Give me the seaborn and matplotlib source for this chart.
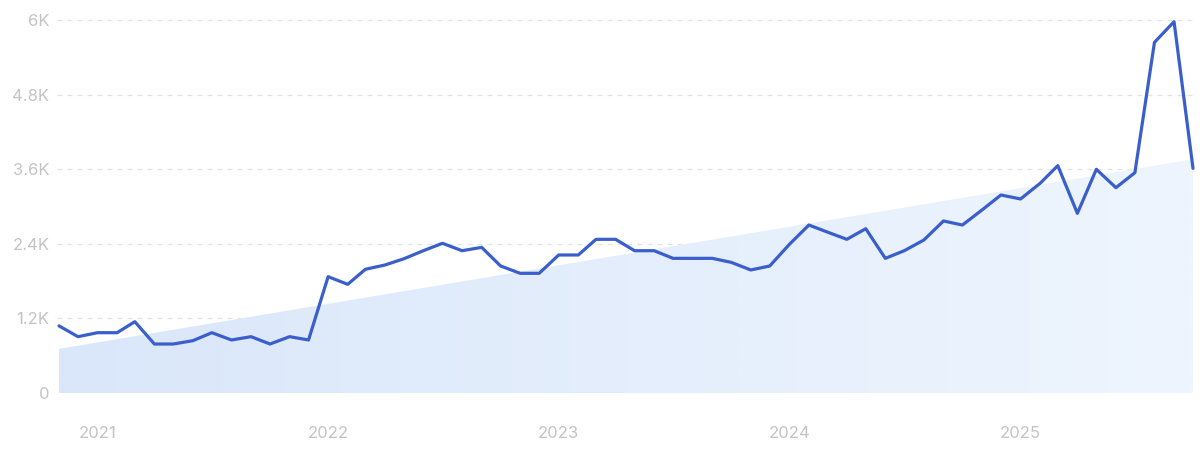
import numpy as np
import pandas as pd
import matplotlib
matplotlib.use("Agg")
import matplotlib.pyplot as plt
import seaborn as sns
from matplotlib.colors import LinearSegmentedColormap

# monthly values, Nov 2020 .. Oct 2025
months = pd.date_range("2020-11-01", periods=60, freq="MS")
values = [
    1080, 906, 970, 970, 1147, 788, 788, 842, 970, 853, 906, 788, 906, 853,
    1871, 1748, 1990, 2059, 2160, 2290, 2408, 2289, 2343, 2043, 1925, 1925,
    2220, 2220, 2472, 2472, 2289, 2289, 2166, 2166, 2166, 2102, 1979, 2043,
    2390, 2702, 2590, 2472, 2643, 2166, 2289, 2461, 2767, 2702, 2944, 3185,
    3121, 3373, 3657, 2890, 3598, 3303, 3544, 5641, 5973, 3614,
]
trend_start = 710
trend_end = 3760

y_ticks = [0, 1200, 2400, 3600, 4800, 6000]
y_labels = ["0", "1.2K", "2.4K", "3.6K", "4.8K", "6K"]
year_ticks = pd.to_datetime(["2021-01-01", "2022-01-01", "2023-01-01", "2024-01-01", "2025-01-01"])
year_labels = ["2021", "2022", "2023", "2024", "2025"]

df = pd.DataFrame({"month": months, "value": values})

sns.set_style("white")
plt.rcParams["font.family"] = ["Inter", "DejaVu Sans"]

fig = plt.figure(figsize=(12, 4.51), dpi=100)
ax = fig.add_axes([59 / 1200, 1 - 393 / 451, (1193 - 59) / 1200, (393 - 20) / 451])

# trend area with a soft horizontal gradient
x0, x1 = months[0], months[-1]
poly = ax.fill_between([x0, x1], [0, 0], [trend_start, trend_end], color="none", lw=0)
cmap = LinearSegmentedColormap.from_list("fade", ["#dae7fa", "#eef5fe"])
grad = np.linspace(0, 1, 512).reshape(1, -1)
im = ax.imshow(grad, cmap=cmap, aspect="auto", zorder=1, interpolation="bilinear",
               extent=[matplotlib.dates.date2num(x0), matplotlib.dates.date2num(x1), 0, trend_end])
im.set_clip_path(poly.get_paths()[0], transform=ax.transData)

sns.lineplot(data=df, x="month", y="value", ax=ax, color="#3a5fcd", linewidth=2.3,
             zorder=3, clip_on=False)

for t in y_ticks[1:]:
    ax.axhline(t, color="#e3e3e3", lw=0.9, ls=(0, (4, 4)), zorder=0, xmin=-0.002, xmax=1.002, clip_on=False)

ax.set_xlim(x0, x1)
ax.set_ylim(0, 6000)
ax.set_yticks(y_ticks)
ax.set_yticklabels(y_labels)
ax.set_xticks(year_ticks)
ax.set_xticklabels(year_labels)
ax.tick_params(axis="both", length=0, labelsize=12, labelcolor="#c4c4c4")
ax.tick_params(axis="y", pad=7)
ax.tick_params(axis="x", pad=24)
ax.set_xlabel("")
ax.set_ylabel("")
for s in ax.spines.values():
    s.set_visible(False)

fig.savefig("out.png", dpi=100, facecolor="white")
